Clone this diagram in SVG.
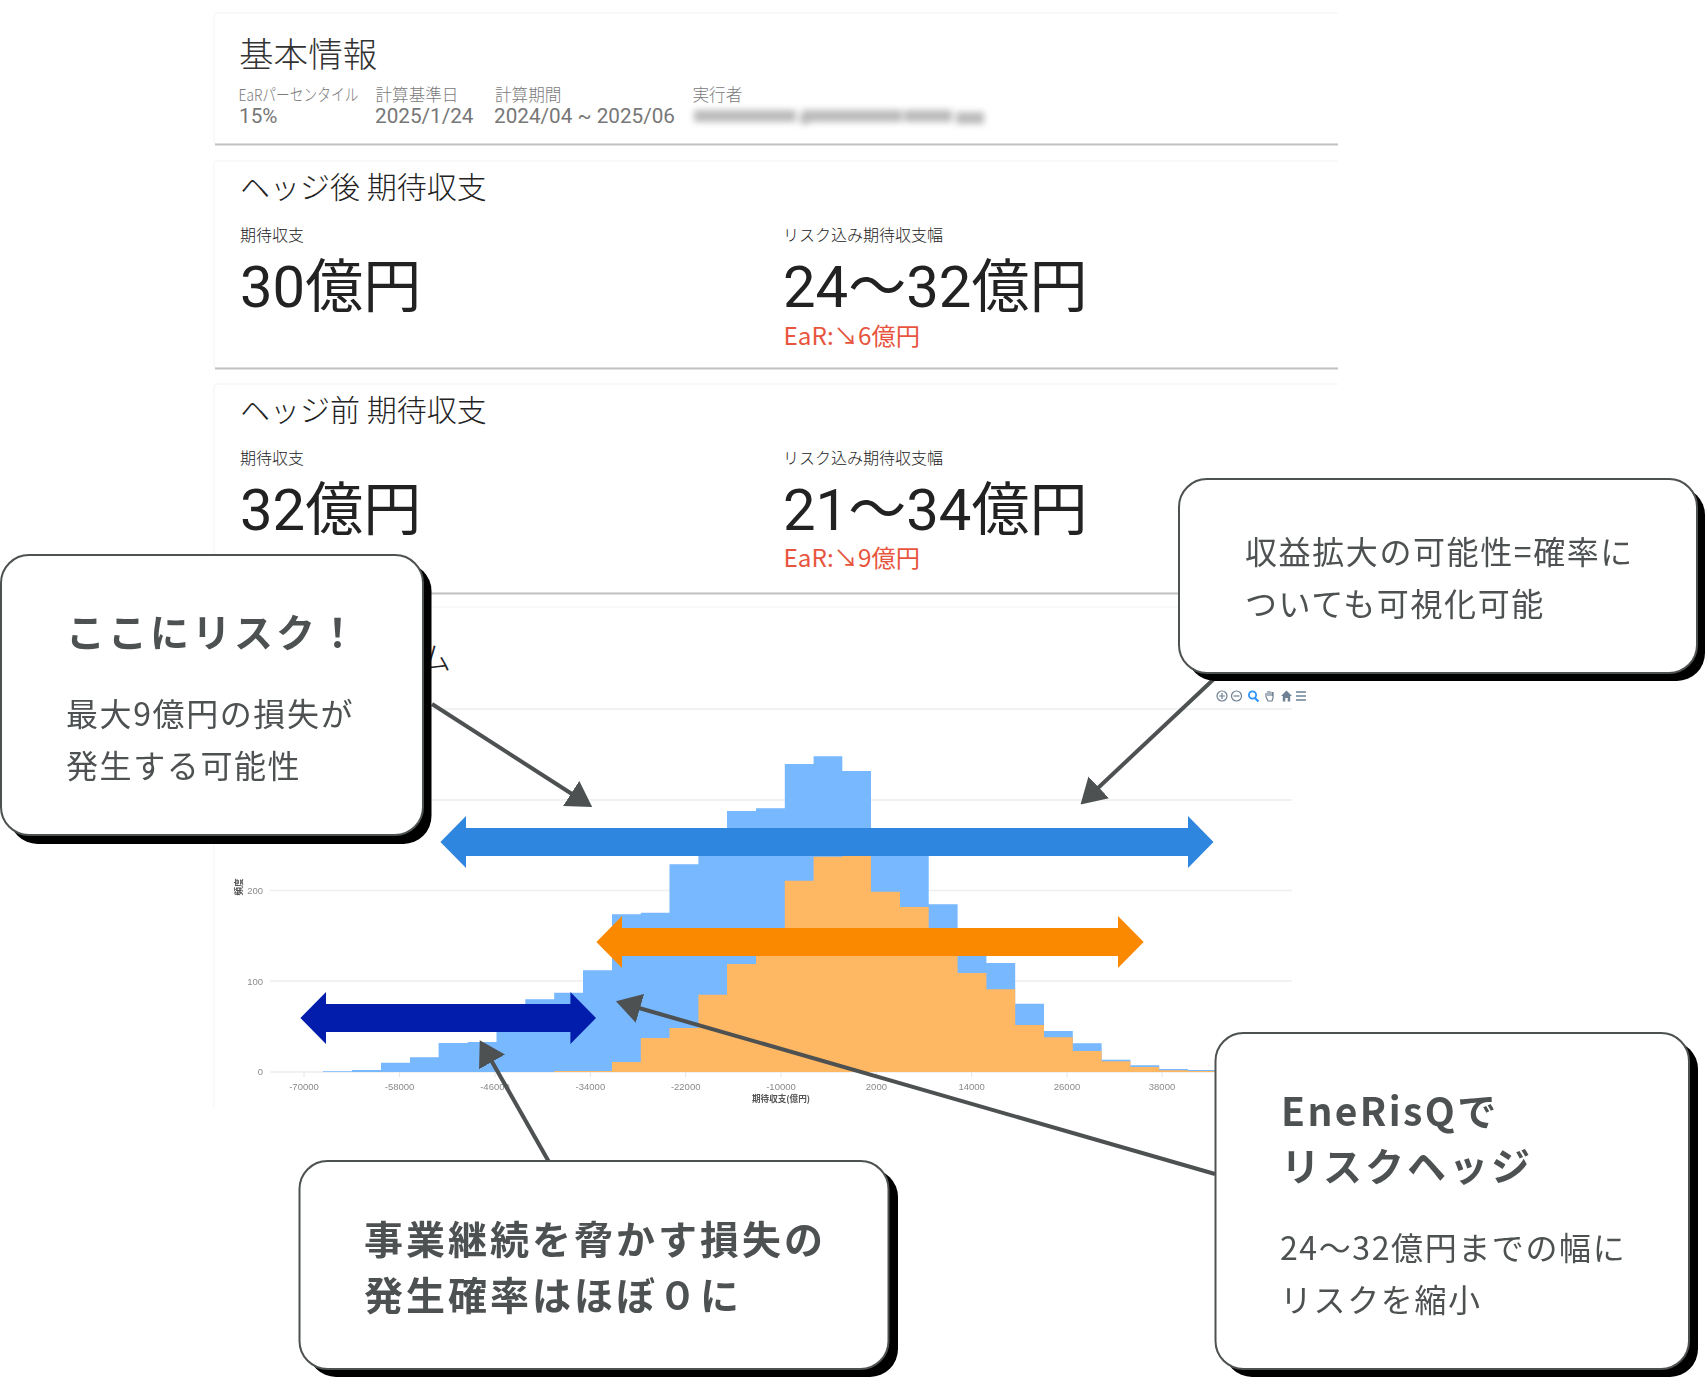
<svg xmlns="http://www.w3.org/2000/svg" width="1706" height="1378" viewBox="0 0 1706 1378">
<style>
text{font-family:"Noto Sans CJK JP","Noto Sans",sans-serif}
.card{fill:#fff;stroke:#f3f3f3;stroke-width:1}
.cardline{stroke:#c2c2c2;stroke-width:2}
.lab{font-size:16.6px;fill:#7a7a7a;font-weight:300}
.val{font-size:20.7px;fill:#777;font-family:Roboto,"Noto Sans CJK JP",sans-serif}
.h{font-size:30px;fill:#222;font-weight:300}
.sub{font-size:16px;fill:#222;font-weight:300}
.big{font-size:58px;fill:#222;font-family:Roboto,"Noto Sans CJK JP",sans-serif}
.ear{font-size:24.3px;fill:#e8553e}
.grid{stroke:#eeeeee;stroke-width:1.5}
.tick{font-size:9.5px;fill:#8a8a8a;font-family:"Liberation Sans",sans-serif;text-anchor:middle}
.ytick{font-size:9.5px;fill:#8a8a8a;font-family:"Liberation Sans",sans-serif;text-anchor:end}
.axis{font-size:8.6px;fill:#555;font-weight:700;text-anchor:middle}
.conn{stroke:#4d5152;stroke-width:4;fill:none;marker-end:url(#head)}
.box{fill:#fff;stroke:#4d5152;stroke-width:2}
.shadow{fill:#000}
.t-b{font-size:39px;font-weight:700;fill:#4d5152;letter-spacing:3px}
.t{font-size:32px;fill:#4d5152;letter-spacing:1.6px}
.ic{fill:none;stroke:#6e8192;stroke-width:1.2}
</style>
<defs>
<marker id="head" markerUnits="userSpaceOnUse" markerWidth="25" markerHeight="30" refX="1" refY="15" orient="auto"><path d="M0,0L25,15L0,30z" fill="#4d5152"/></marker>
<filter id="blur" x="-10%" y="-100%" width="120%" height="300%"><feGaussianBlur stdDeviation="3"/></filter>
<filter id="soft" x="-10%" y="-50%" width="120%" height="200%"><feGaussianBlur stdDeviation="0.35"/></filter>
</defs>
<rect width="1706" height="1378" fill="#fff"/>

<g id="card-basic">
<path class="card" d="M1338,13H217a3,3 0 0 0-3,3V141a3,3 0 0 0 3,3H1338"/>
<line class="cardline" x1="215" y1="144.5" x2="1338" y2="144.5"/>
<text x="239" y="67" font-size="34.6" fill="#333" font-weight="300">基本情報</text>
<text class="lab" x="238.5" y="101" textLength="120" lengthAdjust="spacingAndGlyphs">EaRパーセンタイル</text>
<text class="lab" x="375.5" y="101">計算基準日</text>
<text class="lab" x="495" y="101">計算期間</text>
<text class="lab" x="692.5" y="101">実行者</text>
<text class="val" x="239" y="123">15%</text>
<text class="val" x="375" y="123">2025/1/24</text>
<text class="val" x="494" y="123">2024/04 ~ 2025/06</text>
<g filter="url(#blur)" fill="#bcbcbc"><rect x="694" y="110" width="102" height="12"/><rect x="800" y="114" width="10" height="10"/><rect x="802" y="110" width="100" height="12"/><rect x="904" y="110" width="48" height="12"/><rect x="956" y="112" width="28" height="12"/></g>
</g>

<g id="card-after">
<path class="card" d="M1338,161H217a3,3 0 0 0-3,3V365a3,3 0 0 0 3,3H1338"/>
<line class="cardline" x1="215" y1="368.5" x2="1338" y2="368.5"/>
<text class="h" x="240" y="198">ヘッジ後 期待収支</text>
<text class="sub" x="240" y="241">期待収支</text>
<text class="sub" x="783" y="241">リスク込み期待収支幅</text>
<text class="big" x="240" y="307">30億円</text>
<text class="big" x="783" y="307">24～32億円</text>
<text class="ear" x="783.5" y="345">EaR:↘6億円</text>
</g>

<g id="card-before">
<path class="card" d="M1338,384H217a3,3 0 0 0-3,3V590a3,3 0 0 0 3,3H1338"/>
<line class="cardline" x1="215" y1="593.5" x2="1338" y2="593.5"/>
<text class="h" x="240" y="421">ヘッジ前 期待収支</text>
<text class="sub" x="240" y="464">期待収支</text>
<text class="sub" x="783" y="464">リスク込み期待収支幅</text>
<text class="big" x="240" y="530">32億円</text>
<text class="big" x="783" y="530">21～34億円</text>
<text class="ear" x="783.5" y="567">EaR:↘9億円</text>
</g>

<g id="card-histogram">
<path class="card" d="M1338,607H217a3,3 0 0 0-3,3V1107"/>
<text x="420" y="669" font-size="31" fill="#222" font-weight="300">ム</text>
<line class="grid" x1="270" y1="709" x2="1292" y2="709"/>
<line class="grid" x1="270" y1="800" x2="1292" y2="800"/>
<line class="grid" x1="270" y1="890.5" x2="1292" y2="890.5"/>
<line class="grid" x1="270" y1="981" x2="1292" y2="981"/>
<line class="grid" x1="270" y1="1072" x2="1292" y2="1072"/>
<path fill="#77b8fe" d="M323,1072V1071.3H352V1070H381V1062.7H410V1057.3H438.6V1043H467.8V1042H496.5V1022H525.3V999.3H554.2V992.7H583V970.3H612V914.3H640.8V912.7H669.5V864.3H698.4V843H727V811H756V808.3H784.8V764H813.6V756.3H842.3V771H871V837H900V847H928.7V904.3H957.6V943H986.4V963H1015.2V1003.7H1044V1031H1072.8V1043.3H1101.6V1059.7H1130.4V1065.3H1159.2V1069H1188V1070H1217V1072Z"/>
<path fill="#feb763" d="M554.2,1072V1071H612V1062H640.8V1038H669.5V1028H698.4V994.7H727V964H756V943H784.8V880.7H813.6V856.7H842.3V850H871V891.7H900V907H928.7V946H957.6V973H986.4V989.3H1015.2V1025H1044V1037.3H1072.8V1051H1101.6V1061.3H1130.4V1067H1159.2V1070.3H1188V1071H1217V1072Z"/>
<g stroke="#e4e4e4" stroke-width="1"><line x1="304" y1="1072" x2="304" y2="1077"/><line x1="399.6" y1="1072" x2="399.6" y2="1077"/><line x1="495" y1="1072" x2="495" y2="1077"/><line x1="590.4" y1="1072" x2="590.4" y2="1077"/><line x1="685.7" y1="1072" x2="685.7" y2="1077"/><line x1="781" y1="1072" x2="781" y2="1077"/><line x1="876.4" y1="1072" x2="876.4" y2="1077"/><line x1="971.6" y1="1072" x2="971.6" y2="1077"/><line x1="1067" y1="1072" x2="1067" y2="1077"/><line x1="1162" y1="1072" x2="1162" y2="1077"/></g>
<g filter="url(#soft)">
<text class="tick" x="304" y="1090">-70000</text>
<text class="tick" x="399.6" y="1090">-58000</text>
<text class="tick" x="495" y="1090">-46000</text>
<text class="tick" x="590.4" y="1090">-34000</text>
<text class="tick" x="685.7" y="1090">-22000</text>
<text class="tick" x="781" y="1090">-10000</text>
<text class="tick" x="876.4" y="1090">2000</text>
<text class="tick" x="971.6" y="1090">14000</text>
<text class="tick" x="1067" y="1090">26000</text>
<text class="tick" x="1162" y="1090">38000</text>
<text class="ytick" x="263" y="893.5">200</text>
<text class="ytick" x="263" y="984.5">100</text>
<text class="ytick" x="263" y="1075">0</text>
<text class="axis" transform="translate(242,887) rotate(-90)">頻度</text>
<text class="axis" x="781" y="1102">期待収支(億円)</text>
</g>
<g id="toolbar">
<circle class="ic" cx="1222" cy="696" r="5"/><path class="ic" d="M1219,696h6M1222,693v6"/>
<circle class="ic" cx="1236.5" cy="696" r="5"/><path class="ic" d="M1233.5,696h6"/>
<circle cx="1252.5" cy="695" r="3.6" fill="none" stroke="#2e93fa" stroke-width="1.8"/><path d="M1255,698l3.5,3.5" stroke="#2e93fa" stroke-width="2.2"/>
<path class="ic" d="M1266,697v-4M1268,696v-5M1270,696v-5M1272,696v-4M1266,697l2,4h4l1-3v-6"/>
<path fill="#6e8192" d="M1281,696l5.5-5.5 5.5,5.5h-1.8v5.5h-2.5v-3.5h-2.4v3.5h-2.5v-5.5z"/>
<path d="M1296,692h10M1296,696h10M1296,700h10" stroke="#6e8192" stroke-width="1.5"/>
</g>
</g>

<g id="ranges">
<path fill="#2e86de" d="M440.4,842L466,816V828H1188V816L1213.5,842L1188,868V856H466V868Z"/>
<path fill="#fa8900" d="M596.4,942L622,916V928H1118V916L1143.7,942L1118,968V956H622V968Z"/>
<path fill="#021dac" d="M300.4,1018L326,992V1004H570.4V992L596,1018L570.4,1044V1032H326V1044Z"/>
</g>

<g id="connectors">
<line class="conn" x1="432" y1="704" x2="572" y2="794"/>
<line class="conn" x1="1216" y1="677" x2="1098" y2="788"/>
<line class="conn" x1="1215" y1="1174" x2="639" y2="1008"/>
<line class="conn" x1="549" y1="1162" x2="491.6" y2="1061"/>
</g>

<g id="note-risk">
<rect class="shadow" x="9.5" y="563" width="422" height="281" rx="28"/>
<rect class="box" x="1" y="555" width="422" height="280" rx="28"/>
<text class="t-b" x="66" y="647">ここにリスク！</text>
<text class="t" x="66" y="726">最大9億円の損失が</text>
<text class="t" x="66" y="778">発生する可能性</text>
</g>

<g id="note-upside">
<rect class="shadow" x="1187" y="487" width="518" height="194" rx="28"/>
<rect class="box" x="1179" y="479" width="518" height="194" rx="28"/>
<text class="t" x="1245" y="564">収益拡大の可能性=確率に</text>
<text class="t" x="1245" y="616">ついても可視化可能</text>
</g>

<g id="note-continuity">
<rect class="shadow" x="308" y="1169" width="590" height="208" rx="28"/>
<rect class="box" x="299.5" y="1161" width="589" height="208" rx="28"/>
<text class="t-b" x="364" y="1254">事業継続を脅かす損失の</text>
<text class="t-b" x="364" y="1310">発生確率はほぼ０に</text>
</g>

<g id="note-hedge">
<rect class="shadow" x="1224" y="1041" width="474" height="336" rx="28"/>
<rect class="box" x="1215.5" y="1033" width="473.5" height="336" rx="28"/>
<text class="t-b" x="1281" y="1126" style="letter-spacing:2.4px">EneRisQで</text>
<text class="t-b" x="1281" y="1181">リスクヘッジ</text>
<text class="t" x="1280" y="1260">24～32億円までの幅に</text>
<text class="t" x="1280" y="1312">リスクを縮小</text>
</g>
</svg>
